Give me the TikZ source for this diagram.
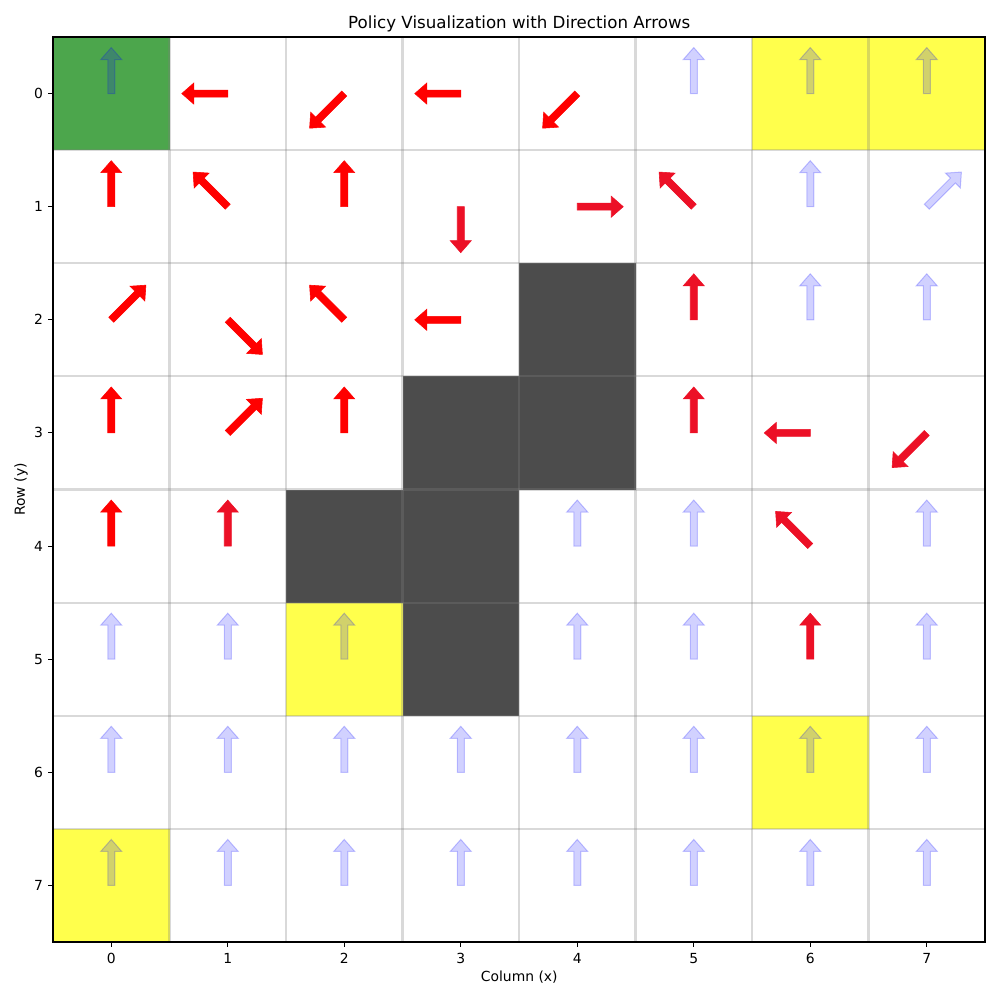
\documentclass[tikz,border=0pt]{standalone}
\usepackage{fontspec}
\setmainfont{DejaVu Sans}
\usetikzlibrary{positioning}
\definecolor{cellgreen}{RGB}{0,128,0}
\definecolor{cellyellow}{RGB}{255,255,0}
\definecolor{polred}{RGB}{255,0,0}
\definecolor{polcrimson}{RGB}{236,16,38}
\definecolor{polblue}{RGB}{0,0,255}
\tikzset{
  goalcell/.style={fill=cellgreen, fill opacity=0.7},
  rewardcell/.style={fill=cellyellow, fill opacity=0.7},
  wallcell/.style={fill=black, fill opacity=0.7},
  gridline/.style={draw=gray, draw opacity=0.3, line width=1.6pt},
  redpolicy/.style={fill=polred, draw=polred, line width=0.4pt},
  crimpolicy/.style={fill=polcrimson, draw=polcrimson, line width=0.4pt},
  bluepolicy/.style={fill=polblue, draw=polblue, fill opacity=0.18, draw opacity=0.22, line width=0.72pt},
  axisframe/.style={draw=black, line width=0.8pt},
  axistick/.style={draw=black, line width=0.8pt},
  ticklabel/.style={font=\fontsize{10}{12}\selectfont, inner sep=0pt},
  titlelabel/.style={font=\fontsize{12}{14}\selectfont, inner sep=0pt},
  axislabel/.style={font=\fontsize{10}{12}\selectfont, inner sep=0pt}
}
% arrow of the policy: column, row, angle, style
\newcommand{\policyarrow}[4]{%
  \begin{scope}[shift={(#1,#2)}, x=0.72pt, y=0.72pt, rotate=#3]
    \pgfmathsetmacro{\arrowlen}{mod(#3,90)==0 ? 46 : 49}
    \path[#4] (0,-3.5) -- (\arrowlen-12,-3.5) -- (\arrowlen-12,-10.5) -- (\arrowlen,0)
      -- (\arrowlen-12,10.5) -- (\arrowlen-12,3.5) -- (0,3.5) -- cycle;
  \end{scope}}
\begin{document}
\begin{tikzpicture}[x=0.72pt, y=-0.72pt]
  \useasboundingbox (0,0) rectangle (1000,1000);
  % grid world, one unit per cell
  \begin{scope}[shift={(111.25,93.5625)}, x=83.88pt, y=-81.45pt]
    % Goal, rewards and walls
    \fill[goalcell] (-0.5,-0.5) rectangle (0.5,0.5);
    \foreach \c/\r in {6/0, 7/0, 2/5, 6/6, 0/7}
      \fill[rewardcell] (\c-0.5,\r-0.5) rectangle (\c+0.5,\r+0.5);
    \foreach \c/\r in {4/2, 3/3, 4/3, 2/4, 3/4, 3/5}
      \fill[wallcell] (\c-0.5,\r-0.5) rectangle (\c+0.5,\r+0.5);
    % Grid lines
    \foreach \k in {0,...,8} {
      \draw[gridline] (\k-0.5,-0.5) -- (\k-0.5,7.5);
      \draw[gridline] (-0.5,\k-0.5) -- (7.5,\k-0.5);
    }
    % Learned policy
    \foreach \c/\r/\a in {1/0/180, 2/0/225, 3/0/180, 4/0/225, 0/1/90, 1/1/135, 2/1/90,
        0/2/45, 1/2/315, 2/2/135, 3/2/180, 0/3/90, 1/3/45, 2/3/90, 0/4/90}
      \policyarrow{\c}{\r}{\a}{redpolicy};
    \foreach \c/\r/\a in {3/1/270, 4/1/0, 5/1/135, 5/2/90, 5/3/90, 6/3/180, 7/3/225,
        1/4/90, 6/4/135, 6/5/90}
      \policyarrow{\c}{\r}{\a}{crimpolicy};
    % Default (unvisited) directions
    \foreach \c/\r/\a in {0/0/90, 5/0/90, 6/0/90, 7/0/90, 6/1/90, 7/1/45, 6/2/90, 7/2/90,
        4/4/90, 5/4/90, 7/4/90, 0/5/90, 1/5/90, 2/5/90, 4/5/90, 5/5/90, 7/5/90}
      \policyarrow{\c}{\r}{\a}{bluepolicy};
    \foreach \r in {6,7}
      \foreach \c in {0,...,7}
        \policyarrow{\c}{\r}{90}{bluepolicy};
    % Axes
    \draw[axisframe] (-0.5,-0.5) rectangle (7.5,7.5);
    \foreach \k in {0,...,7} {
      \draw[axistick] (\k,7.5) -- ++(0pt,-3.5pt) coordinate (xt\k);
      \node[ticklabel, below=4.2pt of xt\k] (xtick\k) {\k};
      \draw[axistick] (-0.5,\k) -- ++(-3.5pt,0pt) coordinate (yt\k);
      \node[ticklabel, left=3.6pt of yt\k] (ytick\k) {\k};
    }
  \end{scope}
  % Labels
  \node[titlelabel, anchor=base] (title) at (519.25,28.7) {Policy Visualization with Direction Arrows};
  \node[axislabel, anchor=north] (xlabel) at (519.25,971) {Column (x)};
  \node[axislabel, anchor=south, rotate=90] (ylabel) at (28,489.5) {Row (y)};
\end{tikzpicture}
\end{document}
